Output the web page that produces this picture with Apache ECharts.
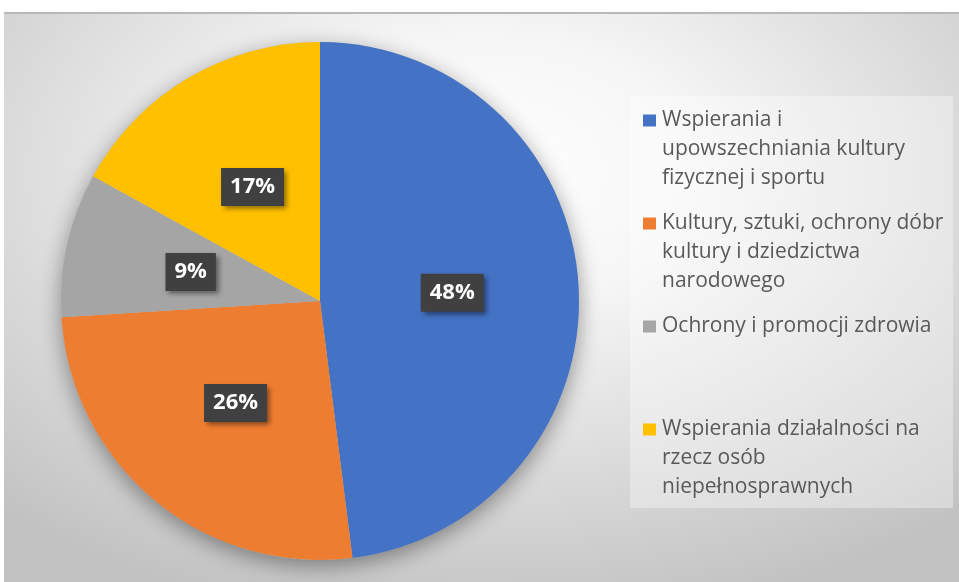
<!DOCTYPE html>
<html><head><meta charset="utf-8">
<script src="https://cdn.jsdelivr.net/npm/echarts@6/dist/echarts.min.js"></script>
<style>
html,body{margin:0;padding:0;background:#fff;width:959px;height:582px;overflow:hidden}
#card{position:absolute;left:4px;top:12px;width:955px;height:570px;box-sizing:border-box;border-top:2px solid #b8b8b8;
background:radial-gradient(ellipse 75% 80% at 50% 28%, #ffffff 0%, #f6f6f6 30%, #d8d8d8 70%, #c2c2c2 100%)}
#chart{position:absolute;left:0;top:0;width:959px;height:582px}
</style></head><body>
<div id="card"></div><div id="chart"></div>
<script>
const categories = [
  'Wspierania i upowszechniania kultury fizycznej i sportu',
  'Kultury, sztuki, ochrony dóbr kultury i dziedzictwa narodowego',
  'Ochrony i promocji zdrowia',
  'Wspierania działalności na rzecz osób niepełnosprawnych'
];
const legendLines = [
  ['Wspierania i', 'upowszechniania kultury', 'fizycznej i sportu'],
  ['Kultury, sztuki, ochrony dóbr', 'kultury i dziedzictwa', 'narodowego'],
  ['Ochrony i promocji zdrowia'],
  ['Wspierania działalności na', 'rzecz osób', 'niepełnosprawnych']
];
const values = [48, 26, 9, 17];
const colors = ['#4472c4', '#ed7d31', '#a5a5a5', '#ffc000'];

const FONT = 'Open Sans';
const rich = {
  g: { width: 6 },
  ind: { width: 19 },
  t: { fontFamily: FONT, fontSize: 21, color: '#595959', lineHeight: 29 }
};
colors.forEach((c, i) => { rich['q' + i] = { width: 13, height: 12, backgroundColor: c }; });

const chart = echarts.init(document.getElementById('chart'), null, { renderer: 'canvas' });
chart.setOption({
  backgroundColor: 'transparent',
  animation: false,
  color: colors,
  graphic: [{
    type: 'rect', silent: true, z: -1,
    shape: { x: 630, y: 96, width: 323, height: 412 },
    style: { fill: 'rgba(255,255,255,0.35)' }
  }],
  legend: {
    orient: 'vertical',
    left: 638,
    top: 106,
    padding: 0,
    itemGap: 16,
    itemWidth: 0,
    itemHeight: 12,
    icon: 'none',
    selectedMode: false,
    data: categories,
    formatter: function (name) {
      const i = categories.indexOf(name);
      const lines = legendLines[i];
      let s = '{q' + i + '|}{g|}{t|' + lines[0] + '}';
      for (let k = 1; k < 3; k++) {
        s += '\n{ind|}{t|' + (lines[k] !== undefined ? lines[k] : ' ') + '}';
      }
      return s;
    },
    textStyle: { rich: rich, fontFamily: FONT, fontSize: 21, color: '#595959', lineHeight: 29 }
  },
  series: [
    {
      type: 'pie', silent: true, z: 1,
      center: [320, 301], radius: 259,
      label: { show: false }, labelLine: { show: false },
      emphasis: { disabled: true },
      data: [{ value: 1, name: '' }],
      itemStyle: { color: '#bbbbbb', shadowBlur: 22, shadowOffsetY: 6, shadowColor: 'rgba(0,0,0,0.4)' }
    },
    {
      type: 'pie', z: 2,
      center: [320, 301], radius: 259,
      startAngle: 90, clockwise: true,
      emphasis: { disabled: true },
      itemStyle: { borderWidth: 0 },
      data: categories.map((n, i) => ({ name: n, value: values[i] })),
      label: {
        show: true,
        position: 'inside',
        formatter: '{c}%',
        color: '#ffffff',
        fontFamily: FONT,
        fontWeight: 'bold',
        fontSize: 22,
        lineHeight: 24,
        backgroundColor: '#404040',
        padding: [7, 9, 7, 9],
        shadowBlur: 5,
        shadowOffsetX: 3,
        shadowOffsetY: 3,
        shadowColor: 'rgba(0,0,0,0.45)'
      },
      labelLine: { show: false }
    }
  ]
});
</script>
</body></html>
